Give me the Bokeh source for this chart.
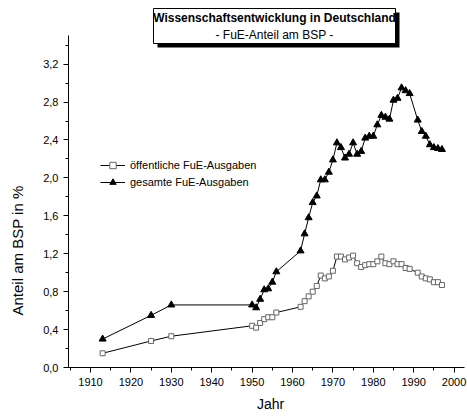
import math
from bokeh.plotting import figure
from bokeh.models import (Range1d, SingleIntervalTicker, CustomJSTickFormatter, Label,
                          BoxAnnotation, Legend, LegendItem)
from bokeh.embed import file_html
from bokeh.resources import INLINE

years = [1913, 1925, 1930, 1950, 1951, 1952, 1953, 1954, 1955, 1956,
         1962, 1963, 1964, 1965, 1966, 1967, 1968, 1969, 1970, 1971,
         1972, 1973, 1974, 1975, 1976, 1977, 1978, 1979, 1980, 1981,
         1982, 1983, 1984, 1985, 1986, 1987, 1988, 1989, 1991, 1992,
         1993, 1994, 1995, 1996, 1997]
oeffentlich = [0.15, 0.28, 0.33, 0.44, 0.42, 0.47, 0.51, 0.53, 0.53, 0.58,
               0.64, 0.70, 0.75, 0.80, 0.86, 0.97, 0.94, 0.96, 1.02, 1.17,
               1.17, 1.14, 1.16, 1.18, 1.10, 1.06, 1.08, 1.09, 1.09, 1.12,
               1.17, 1.10, 1.09, 1.12, 1.09, 1.09, 1.05, 1.04, 1.00, 0.96,
               0.94, 0.93, 0.90, 0.90, 0.87]
gesamt = [0.30, 0.55, 0.66, 0.66, 0.63, 0.72, 0.82, 0.83, 0.90, 1.01,
          1.23, 1.41, 1.58, 1.74, 1.81, 1.98, 1.98, 2.06, 2.19, 2.37,
          2.32, 2.21, 2.25, 2.37, 2.25, 2.28, 2.42, 2.44, 2.44, 2.56,
          2.66, 2.64, 2.62, 2.82, 2.84, 2.95, 2.92, 2.89, 2.61, 2.49,
          2.44, 2.35, 2.32, 2.31, 2.30]

series_labels = ["öffentliche FuE-Ausgaben", "gesamte FuE-Ausgaben"]
title_line1 = "Wissenschaftsentwicklung in Deutschland"
title_line2 = "- FuE-Anteil am BSP -"
x_label = "Jahr"
y_label = "Anteil am BSP in %"

FONT = "Liberation Sans"
X_AXIS_START, X_AXIS_END = 1904.55, 2002.5
Y_AXIS_START, Y_AXIS_END = 0, 3.5

p = figure(width=467, height=417, output_backend="svg", toolbar_location=None,
           x_range=Range1d(1887.72, 2003.32), y_range=Range1d(-0.5274, 3.8713),
           min_border_left=0, min_border_top=0, min_border_bottom=0, min_border_right=0)
p.outline_line_color = None
p.xgrid.visible = False
p.ygrid.visible = False
p.background_fill_color = "white"
p.border_fill_color = "white"

for ax in (p.xaxis[0], p.yaxis[0]):
    ax.axis_line_color = "black"
    ax.major_tick_line_color = "black"
    ax.minor_tick_line_color = "black"
    ax.major_tick_in = 0
    ax.major_tick_out = 5
    ax.minor_tick_in = 0
    ax.minor_tick_out = 3
    ax.major_label_standoff = 5
    ax.major_label_text_font = FONT
    ax.major_label_text_font_size = "11px"
    ax.major_label_text_color = "black"

p.xaxis[0].ticker = SingleIntervalTicker(interval=10, num_minor_ticks=2)
p.yaxis[0].ticker = SingleIntervalTicker(interval=0.4, num_minor_ticks=2)
p.yaxis[0].formatter = CustomJSTickFormatter(code="return tick.toFixed(1).replace('.', ',');")
p.xaxis[0].fixed_location = Y_AXIS_START
p.yaxis[0].fixed_location = X_AXIS_START
p.xaxis[0].bounds = (X_AXIS_START, X_AXIS_END)
p.yaxis[0].bounds = (Y_AXIS_START, Y_AXIS_END)

r1l = p.line(years, oeffentlich, line_color="black", line_width=1)
r1m = p.scatter(years, oeffentlich, marker="square", size=5, line_color="#666666",
                fill_color="white", line_width=1)
r2l = p.line(years, gesamt, line_color="black", line_width=1)
r2m = p.scatter(years, gesamt, marker="triangle", size=7, line_color="black",
                fill_color="black")

legend = Legend(items=[LegendItem(label=series_labels[0], renderers=[r1l, r1m]),
                       LegendItem(label=series_labels[1], renderers=[r2l, r2m])],
                location=(100, 227), background_fill_alpha=0, border_line_color=None,
                padding=0, margin=0, spacing=1, glyph_width=25, glyph_height=16,
                label_height=16, label_standoff=5, label_text_font=FONT,
                label_text_font_size="11px", label_text_color="black")
p.add_layout(legend, "center")

# axis titles
p.add_layout(Label(x=17, y=167, x_units="screen", y_units="screen", text=y_label,
                   angle=math.pi / 2, text_align="center", text_baseline="middle",
                   text_font=FONT, text_font_size="15px", text_color="black"))
p.add_layout(Label(x=270, y=14, x_units="screen", y_units="screen", text=x_label,
                   text_align="center", text_baseline="middle",
                   text_font=FONT, text_font_size="14px", text_color="black"))

# title box with shadow
p.add_layout(BoxAnnotation(left=157, right=399, top=405, bottom=370,
                           left_units="screen", right_units="screen",
                           top_units="screen", bottom_units="screen",
                           fill_color="black", fill_alpha=1, line_color=None))
p.add_layout(BoxAnnotation(left=153, right=395, top=409, bottom=374,
                           left_units="screen", right_units="screen",
                           top_units="screen", bottom_units="screen",
                           fill_color="white", fill_alpha=1, line_color="black",
                           line_width=1, line_alpha=1))
p.add_layout(Label(x=274, y=400, x_units="screen", y_units="screen", text=title_line1,
                   text_align="center", text_baseline="middle", text_font=FONT,
                   text_font_size="12px", text_font_style="bold", text_color="black"))
p.add_layout(Label(x=274, y=383, x_units="screen", y_units="screen", text=title_line2,
                   text_align="center", text_baseline="middle", text_font=FONT,
                   text_font_size="12px", text_color="black"))

open("out.html", "w").write(file_html(p, INLINE))
